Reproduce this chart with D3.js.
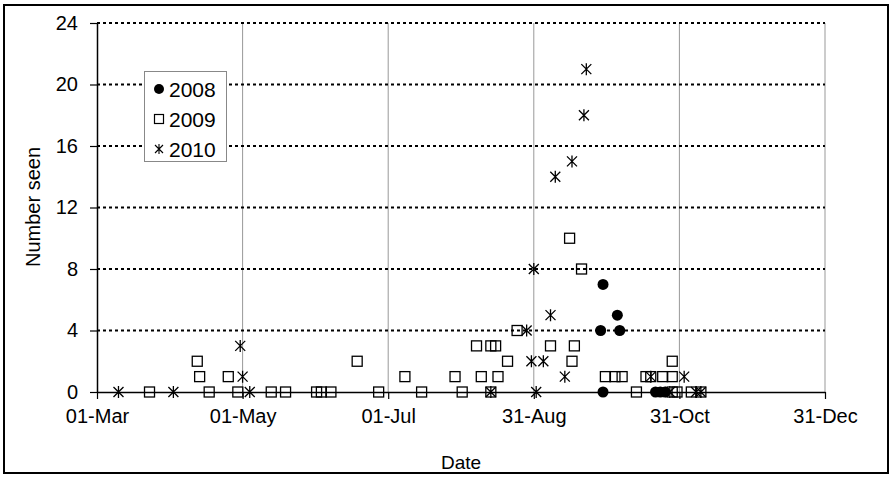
<!DOCTYPE html>
<html>
<head>
<meta charset="utf-8">
<script src="https://cdn.jsdelivr.net/npm/d3@7"></script>
<style>
	body { margin: 0; background: #fff; }
	svg text { font-family: "Liberation Sans", Arial, sans-serif; fill: #000; }
</style>
</head>
<body>
<div id="chart"></div>
<script>
var dates2008 = ["28-Sep", "29-Sep", "29-Sep", "05-Oct", "06-Oct", "21-Oct", "23-Oct", "25-Oct"],
	counts2008 = [4, 7, 0, 5, 4, 0, 0, 0];

var dates2009 = ["23-Mar", "12-Apr", "13-Apr", "17-Apr", "25-Apr", "29-Apr", "13-May", "19-May",
		"01-Jun", "03-Jun", "07-Jun", "18-Jun", "27-Jun", "08-Jul", "15-Jul", "29-Jul", "01-Aug",
		"07-Aug", "09-Aug", "13-Aug", "13-Aug", "15-Aug", "16-Aug", "20-Aug", "24-Aug", "07-Sep",
		"15-Sep", "16-Sep", "17-Sep", "20-Sep", "30-Sep", "04-Oct", "07-Oct", "13-Oct", "17-Oct",
		"19-Oct", "24-Oct", "28-Oct", "28-Oct", "28-Oct", "30-Oct", "05-Nov", "09-Nov"],
	counts2009 = [0, 2, 1, 0, 1, 0, 0, 0,
		0, 0, 0, 2, 0, 1, 0, 1, 0,
		3, 1, 3, 0, 3, 1, 2, 4, 3,
		10, 2, 3, 8, 1, 1, 1, 0, 1,
		1, 1, 2, 1, 0, 0, 0, 0];

var dates2010 = ["10-Mar", "02-Apr", "30-Apr", "01-May", "04-May", "13-Aug", "28-Aug", "30-Aug",
		"31-Aug", "01-Sep", "04-Sep", "07-Sep", "09-Sep", "13-Sep", "16-Sep", "21-Sep", "22-Sep",
		"19-Oct", "27-Oct", "02-Nov", "07-Nov", "09-Nov"],
	counts2010 = [0, 0, 3, 1, 0, 0, 4, 2,
		8, 0, 2, 5, 14, 1, 15, 18, 21,
		1, 0, 1, 0, 0];

var xTickLabels = ["01-Mar", "01-May", "01-Jul", "31-Aug", "31-Oct", "31-Dec"],
	yTicks = [0, 4, 8, 12, 16, 20, 24],
	seriesNames = ["2008", "2009", "2010"];

(function() {
	"use strict";

	var width = 893,
		height = 478,
		left = 97,
		right = 825,
		top = 23,
		bottom = 392,
		parseDay = d3.utcParse("%d-%b-%Y"),
		day = function(s) { return parseDay(s + "-2001"); },
		x = d3.scaleUtc()
			.domain([day(xTickLabels[0]), day(xTickLabels[xTickLabels.length - 1])])
			.range([left, right]),
		y = d3.scaleLinear()
			.domain([0, 24])
			.range([bottom, top]);

	function rows(dates, counts) {
		return dates.map(function(d, i) {
			return { date: day(d), count: counts[i] };
		});
	}

	var svg = d3.select("#chart")
		.append("svg")
		.attr("width", width)
		.attr("height", height);

	// outer frame
	svg.append("rect")
		.attr("x", 4)
		.attr("y", 5)
		.attr("width", 884)
		.attr("height", 468)
		.attr("fill", "#fff")
		.attr("stroke", "#000")
		.attr("stroke-width", 2);

	// vertical grid
	svg.append("g")
		.selectAll("line")
		.data(xTickLabels.slice(1))
		.enter()
		.append("line")
		.attr("x1", function(d) { return x(day(d)); })
		.attr("x2", function(d) { return x(day(d)); })
		.attr("y1", y(24))
		.attr("y2", y(0))
		.attr("stroke", "#999")
		.attr("stroke-width", 1);

	// horizontal dotted grid
	svg.append("g")
		.selectAll("line")
		.data(yTicks.slice(1))
		.enter()
		.append("line")
		.attr("x1", left)
		.attr("x2", right)
		.attr("y1", function(d) { return y(d); })
		.attr("y2", function(d) { return y(d); })
		.attr("stroke", "#000")
		.attr("stroke-width", 2)
		.attr("stroke-dasharray", "3,3");

	var yAxis = svg.append("g")
		.attr("transform", "translate(" + left + ",0)")
		.call(d3.axisLeft(y).tickValues(yTicks).tickSize(7).tickSizeOuter(0).tickPadding(12));

	var xAxis = svg.append("g")
		.attr("transform", "translate(0," + bottom + ")")
		.call(d3.axisBottom(x)
			.tickValues(xTickLabels.map(day))
			.tickFormat(d3.utcFormat("%d-%b"))
			.tickSize(7)
			.tickSizeOuter(0)
			.tickPadding(10));

	[xAxis, yAxis].forEach(function(a) {
		a.select(".domain").attr("stroke", "#000").attr("stroke-width", 1.5);
		a.selectAll(".tick line").attr("stroke", "#000").attr("stroke-width", 1.2);
		a.selectAll(".tick text")
			.style("font-family", "'Liberation Sans', Arial, sans-serif")
			.style("font-size", "20px")
			.attr("fill", "#000");
	});

	svg.append("text")
		.attr("x", (left + right) / 2)
		.attr("y", 469)
		.attr("text-anchor", "middle")
		.style("font-size", "19px")
		.text("Date");

	svg.append("text")
		.attr("transform", "translate(40," + 207 + ") rotate(-90)")
		.attr("text-anchor", "middle")
		.style("font-size", "20px")
		.text("Number seen");

	var star = "M-5,-5L5,5M-5,5L5,-5M0,-6L0,6",
		smallStar = "M-4,-4L4,4M-4,4L4,-4M0,-5L0,5";

	// 2008 filled circles
	svg.append("g")
		.selectAll("circle")
		.data(rows(dates2008, counts2008))
		.enter()
		.append("circle")
		.attr("cx", function(d) { return x(d.date); })
		.attr("cy", function(d) { return y(d.count); })
		.attr("r", 5.5)
		.attr("fill", "#000");

	// 2009 open squares
	svg.append("g")
		.selectAll("rect")
		.data(rows(dates2009, counts2009))
		.enter()
		.append("rect")
		.attr("x", function(d) { return x(d.date) - 5; })
		.attr("y", function(d) { return y(d.count) - 5; })
		.attr("width", 10)
		.attr("height", 10)
		.attr("fill", "none")
		.attr("stroke", "#000")
		.attr("stroke-width", 1.3);

	// 2010 stars
	svg.append("g")
		.selectAll("path")
		.data(rows(dates2010, counts2010))
		.enter()
		.append("path")
		.attr("transform", function(d) {
			return "translate(" + x(d.date) + "," + y(d.count) + ")";
		})
		.attr("d", star)
		.attr("fill", "none")
		.attr("stroke", "#000")
		.attr("stroke-width", 1.3);

	// legend
	var legend = svg.append("g");
	legend.append("rect")
		.attr("x", 144.5)
		.attr("y", 71.5)
		.attr("width", 82)
		.attr("height", 90)
		.attr("fill", "#fff")
		.attr("stroke", "#888")
		.attr("stroke-width", 1);

	var item = legend.selectAll("g.item")
		.data(seriesNames)
		.enter()
		.append("g")
		.classed("item", true)
		.attr("transform", function(d, i) {
			return "translate(159," + (89 + i * 30) + ")";
		});

	item.filter(function(d, i) { return i === 0; })
		.append("circle")
		.attr("r", 5)
		.attr("fill", "#000");
	item.filter(function(d, i) { return i === 1; })
		.append("rect")
		.attr("x", -4.5)
		.attr("y", -4.5)
		.attr("width", 9)
		.attr("height", 9)
		.attr("fill", "none")
		.attr("stroke", "#000")
		.attr("stroke-width", 1.2);
	item.filter(function(d, i) { return i === 2; })
		.append("path")
		.attr("d", smallStar)
		.attr("fill", "none")
		.attr("stroke", "#000")
		.attr("stroke-width", 1.1);

	item.append("text")
		.attr("x", 10)
		.attr("y", 7.5)
		.style("font-size", "21px")
		.text(function(d) { return d; });
})();
</script>
</body>
</html>
